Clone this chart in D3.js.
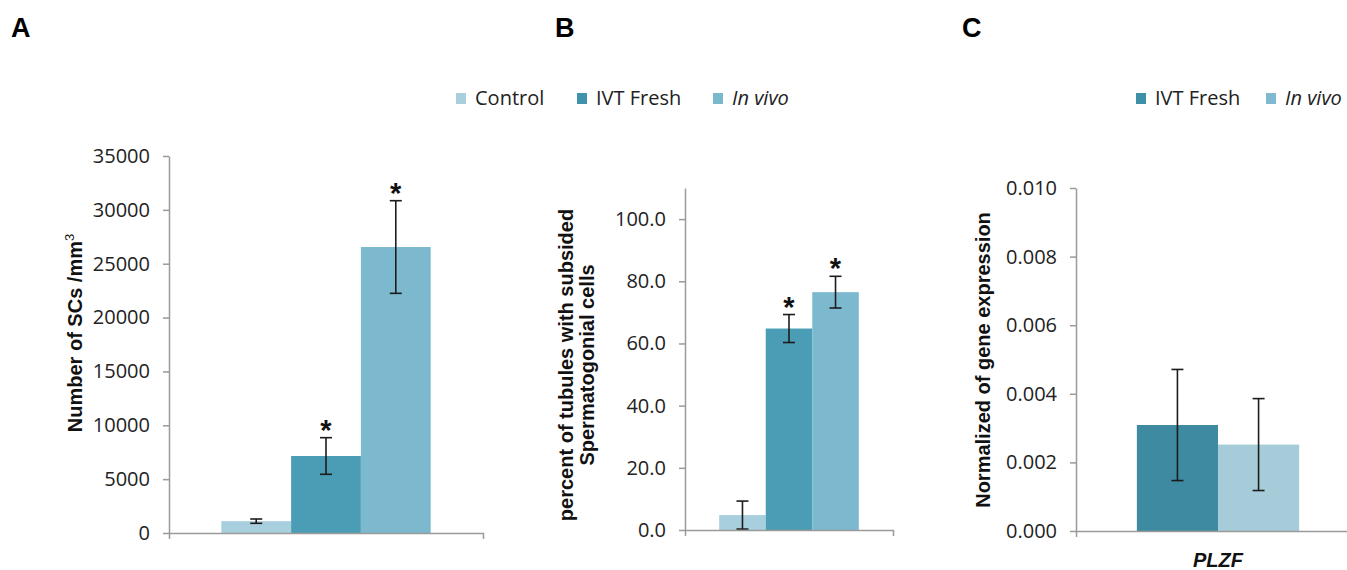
<!DOCTYPE html>
<html>
<head>
<meta charset="utf-8">
<script src="https://cdn.jsdelivr.net/npm/d3@7"></script>
<style>
  body { margin: 0; background: #fff; }
  .tick text { font-family: "Open Sans", sans-serif; font-size: 20px; fill: #222; }
  .title { font-family: "Liberation Sans", Arial, sans-serif; font-weight: bold; font-size: 20px; fill: #111; }
  .legend text { font-family: "Open Sans", sans-serif; font-size: 20px; fill: #222; }
</style>
</head>
<body>
<svg id="chart"></svg>
<script>
// panel A - SCs count
const seriesA = ["Control", "IVT Fresh", "In vivo"];
const valuesA = [1100, 7150, 26550];
const errorsA = [200, 1700, 4300];
const starsA = [false, true, true];
const ticksA = [0, 5000, 10000, 15000, 20000, 25000, 30000, 35000];

// panel B - percent of tubules
const seriesB = ["Control", "IVT Fresh", "In vivo"];
const valuesB = [4.8, 64.8, 76.5];
const errorsB = [4.5, 4.5, 5.1];
const starsB = [false, true, true];
const ticksB = [0, 20, 40, 60, 80, 100];

// panel C - gene expression
const seriesC = ["IVT Fresh", "In vivo"];
const geneC = ["PLZF"];
const valuesC = [0.00309, 0.00252];
const errorsC = [0.00162, 0.00134];
const starsC = [false, false];
const ticksC = [0, 0.002, 0.004, 0.006, 0.008, 0.010];

const svg = d3.select("#chart")
    .attr("width", 1347)
    .attr("height", 570);

svg.append("rect").attr("width", 1347).attr("height", 570).attr("fill", "#fff");

const colorAB = d3.scaleOrdinal()
    .domain(["Control", "IVT Fresh", "In vivo"])
    .range(["#a8cfdd", "#4a9db5", "#7cb9cf"]);
const colorC = d3.scaleOrdinal()
    .domain(["IVT Fresh", "In vivo"])
    .range(["#3d8aa1", "#a6ccda"]);

function drawPanel(p) {
    const y = d3.scaleLinear().domain([0, p.max]).range([p.bottom, p.top]);
    const x0 = d3.scaleBand().domain(p.cats).range([p.left, p.right])
        .paddingInner(0).paddingOuter(p.pad);
    const x1 = d3.scaleBand().domain(p.series).range([0, x0.bandwidth()]).padding(0);

    const g = svg.append("g");

    // y axis
    const yAxis = d3.axisLeft(y)
        .tickValues(p.ticks)
        .tickSizeInner(6)
        .tickSizeOuter(0)
        .tickPadding(13)
        .tickFormat(d3.format(p.fmt));
    const ya = g.append("g")
        .attr("transform", `translate(${p.left},0)`)
        .call(yAxis);
    ya.selectAll("path, line").attr("stroke", "#9a9a9a").attr("stroke-width", 1.5);

    // bars
    const rows = p.series.map((s, i) => ({ s: s, v: p.values[i], e: p.errors[i], star: p.stars[i] }));
    const grp = g.append("g").attr("transform", `translate(${x0(p.cats[0])},0)`);
    grp.selectAll("rect")
        .data(rows)
        .enter().append("rect")
        .attr("x", d => x1(d.s))
        .attr("y", d => y(d.v))
        .attr("width", x1.bandwidth())
        .attr("height", d => y(0) - y(d.v))
        .attr("fill", d => p.color(d.s));

    // x axis
    const xa = g.append("g")
        .attr("transform", `translate(0,${p.bottom})`)
        .call(d3.axisBottom(x0).tickSizeInner(0).tickSizeOuter(6).tickPadding(22));
    xa.selectAll("path").attr("stroke", "#9a9a9a").attr("stroke-width", 1.5).attr("fill", "none");
    xa.selectAll(".tick text")
        .style("font-family", "'Liberation Sans', Arial, sans-serif")
        .style("font-weight", "bold")
        .style("font-style", "italic")
        .style("font-size", "20px")
        .style("fill", "#111");

    // error bars
    const cap = 6;
    const eb = grp.selectAll(".err")
        .data(rows)
        .enter().append("g")
        .attr("class", "err")
        .attr("stroke", "#1c1c1c")
        .attr("stroke-width", 1.6);
    eb.append("line")
        .attr("x1", d => x1(d.s) + x1.bandwidth() / 2)
        .attr("x2", d => x1(d.s) + x1.bandwidth() / 2)
        .attr("y1", d => y(d.v + d.e))
        .attr("y2", d => y(Math.max(0, d.v - d.e)));
    eb.append("line")
        .attr("x1", d => x1(d.s) + x1.bandwidth() / 2 - cap)
        .attr("x2", d => x1(d.s) + x1.bandwidth() / 2 + cap)
        .attr("y1", d => y(d.v + d.e))
        .attr("y2", d => y(d.v + d.e));
    eb.append("line")
        .attr("x1", d => x1(d.s) + x1.bandwidth() / 2 - cap)
        .attr("x2", d => x1(d.s) + x1.bandwidth() / 2 + cap)
        .attr("y1", d => y(Math.max(0, d.v - d.e)))
        .attr("y2", d => y(Math.max(0, d.v - d.e)));

    // significance stars
    grp.selectAll(".star")
        .data(rows.filter(d => d.star))
        .enter().append("text")
        .attr("class", "star")
        .attr("x", d => x1(d.s) + x1.bandwidth() / 2)
        .attr("y", d => y(d.v + d.e) + 2)
        .attr("text-anchor", "middle")
        .style("font-family", "'Liberation Sans', Arial, sans-serif")
        .style("font-weight", "bold")
        .style("font-size", "29px")
        .style("fill", "#111")
        .text("*");

    // y title
    const t = g.append("text")
        .attr("class", "title")
        .attr("text-anchor", "middle")
        .attr("transform", `translate(${p.titleX},${p.titleY}) rotate(-90)`);
    p.title.forEach((line, i) => {
        const ts = t.append("tspan").attr("x", 0).attr("dy", i === 0 ? 0 : 21);
        if (typeof line === "string") {
            ts.text(line);
        } else {
            ts.text(line[0]);
            t.append("tspan").attr("dy", -8).style("font-size", "13px").style("font-weight", "normal").text(line[1]);
        }
    });

    // panel letter
    svg.append("text")
        .attr("x", p.letterX)
        .attr("y", 37)
        .style("font-family", "'Liberation Sans', Arial, sans-serif")
        .style("font-weight", "bold")
        .style("font-size", "27px")
        .style("fill", "#000")
        .text(p.letter);
}

function drawLegend(items, color, xs) {
    const lg = svg.append("g").attr("class", "legend");
    items.forEach((s, i) => {
        lg.append("rect")
            .attr("x", xs[i]).attr("y", 93)
            .attr("width", 10).attr("height", 11)
            .attr("fill", color(s));
        lg.append("text")
            .attr("x", xs[i] + 19).attr("y", 105)
            .style("font-style", s === "In vivo" ? "italic" : "normal")
            .text(s);
    });
}

drawPanel({
    letter: "A", letterX: 11,
    cats: [""], series: seriesA, values: valuesA, errors: errorsA, stars: starsA,
    ticks: ticksA, fmt: "d", max: 35000,
    left: 169, right: 483, top: 156, bottom: 533, pad: 0.25,
    color: colorAB,
    title: [["Number of SCs /mm", "3"]], titleX: 82, titleY: 333
});

drawPanel({
    letter: "B", letterX: 555,
    cats: [""], series: seriesB, values: valuesB, errors: errorsB, stars: starsB,
    ticks: ticksB, fmt: ".1f", max: 110,
    left: 685, right: 893, top: 188, bottom: 530, pad: 0.245,
    color: colorAB,
    title: ["percent of tubules with subsided", "Spermatogonial cells"], titleX: 573, titleY: 365
});

drawPanel({
    letter: "C", letterX: 962,
    cats: geneC, series: seriesC, values: valuesC, errors: errorsC, stars: starsC,
    ticks: ticksC, fmt: ".3f", max: 0.010,
    left: 1076, right: 1360, top: 188, bottom: 531, pad: 0.375,
    color: colorC,
    title: ["Normalized of gene expression"], titleX: 990, titleY: 360
});

drawLegend(seriesA, d3.scaleOrdinal().domain(seriesA).range(["#a9cfdd", "#3f93ac", "#7ab8cd"]), [456, 577, 713]);
drawLegend(seriesC, d3.scaleOrdinal().domain(seriesC).range(["#3e90a8", "#7fbad0"]), [1136, 1266]);
</script>
</body>
</html>
